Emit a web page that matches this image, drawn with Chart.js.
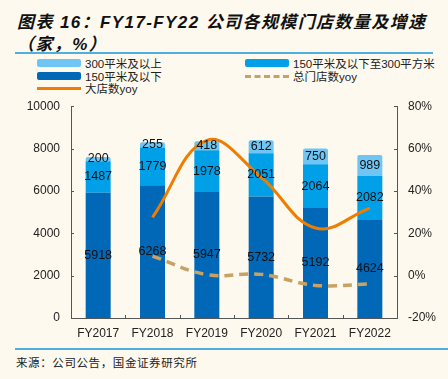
<!DOCTYPE html>
<html><head><meta charset="utf-8">
<script src="https://cdn.jsdelivr.net/npm/chart.js@4/dist/chart.umd.min.js"></script>
<style>
html,body{margin:0;padding:0;}
body{width:448px;height:379px;background:#fdf9ee;position:relative;overflow:hidden;font-family:"Liberation Sans","Noto Sans CJK SC",sans-serif;}
.title{position:absolute;left:17px;font-weight:bold;font-style:italic;font-size:17px;color:#111;letter-spacing:1.4px;white-space:nowrap;font-family:"Liberation Sans","Noto Sans CJK SC",sans-serif;}
.hr{position:absolute;height:1.5px;background:#4fb0e0;}
.leg{position:absolute;font-size:11.5px;color:#222;white-space:nowrap;display:flex;align-items:center;font-family:"Liberation Sans","Noto Sans CJK SC",sans-serif;}
.sw{width:44px;height:8px;border-radius:2px;margin-right:4px;}
.foot{position:absolute;left:16px;top:354px;font-size:11.5px;color:#222;letter-spacing:0.6px;font-family:"Noto Sans CJK SC",sans-serif;}
canvas{position:absolute;left:0;top:88px;}
</style></head>
<body>
<div class="title" style="top:8px">图表 16：FY17-FY22 公司各规模门店数量及增速</div>
<div class="title" style="top:30px">（家，%）</div>
<div class="hr" style="left:15px;width:418px;top:52px"></div>
<div class="leg" style="left:37px;top:55px"><div class="sw" style="background:#6fc6f4"></div>300平米及以上</div>
<div class="leg" style="left:245px;top:55px"><div class="sw" style="background:#00a0e9"></div>150平米及以下至300平方米</div>
<div class="leg" style="left:37px;top:68px"><div class="sw" style="background:#0068b7"></div>150平米及以下</div>
<div class="leg" style="left:245px;top:68px"><div class="sw" style="height:0;border-top:3px dashed #c9a263;border-radius:0;background:none"></div>总门店数yoy</div>
<div class="leg" style="left:37px;top:80px"><div class="sw" style="height:3px;background:#f07d00;border-radius:0"></div>大店数yoy</div>
<canvas id="c" width="448" height="255"></canvas>
<div class="hr" style="left:15px;width:433px;top:348px"></div>
<div class="foot">来源：公司公告，国金证券研究所</div>
<script>
const categories = ['FY2017','FY2018','FY2019','FY2020','FY2021','FY2022'];
const below150 = [5918,6268,5947,5732,5192,4624];
const mid150to300 = [1487,1779,1978,2051,2064,2082];
const above300 = [200,255,418,612,750,989];
const bigStoreYoy = [null,27.5,63.9,46.4,22.5,31.9];
const totalYoy = [null,9.2,0.5,0.6,-4.6,-3.9];
const leftTicks = [0,2000,4000,6000,8000,10000];
const rightTicks = [-20,0,20,40,60,80];

Chart.defaults.font.family = '"Liberation Sans", Arial, sans-serif';
Chart.defaults.font.size = 12;
Chart.defaults.color = '#222';

const barLabels = {
  id:'barLabels',
  afterDatasetsDraw(chart){
    const ctx = chart.ctx;
    ctx.save();
    ctx.font = '12.5px "Liberation Sans", Arial, sans-serif';
    ctx.fillStyle = '#111';
    ctx.textAlign = 'center';
    ctx.textBaseline = 'middle';
    chart.data.datasets.forEach((ds,i)=>{
      if(ds.type!=='bar') return;
      const meta = chart.getDatasetMeta(i);
      meta.data.forEach((el,j)=>{
        const y = (el.y + el.base)/2;
        ctx.fillText(String(ds.data[j]), el.x, y);
      });
    });
    ctx.restore();
  }
};
const tickMarks = {
  id:'tickMarks',
  afterDraw(chart){
    const ctx = chart.ctx, a = chart.chartArea;
    const y = chart.scales.y, y1 = chart.scales.y1, x = chart.scales.x;
    ctx.save();
    ctx.strokeStyle = '#555'; ctx.lineWidth = 1;
    ctx.beginPath();
    leftTicks.forEach(v=>{const p=Math.round(y.getPixelForValue(v))+0.5; ctx.moveTo(a.left,p); ctx.lineTo(a.left+3,p);});
    rightTicks.forEach(v=>{const p=Math.round(y1.getPixelForValue(v))+0.5; ctx.moveTo(a.right-3,p); ctx.lineTo(a.right,p);});
    for(let i=1;i<categories.length;i++){
      const p = Math.round((x.getPixelForValue(i-1)+x.getPixelForValue(i))/2)+0.5;
      ctx.moveTo(p,a.bottom); ctx.lineTo(p,a.bottom-3);
    }
    ctx.stroke();
    ctx.restore();
  }
};

new Chart(document.getElementById('c'),{
  data:{
    labels:categories,
    datasets:[
      {type:'line',label:'大店数yoy',data:bigStoreYoy,yAxisID:'y1',borderColor:'#f07d00',borderWidth:3,pointRadius:0,tension:0.4,order:0,spanGaps:false},
      {type:'line',label:'总门店数yoy',data:totalYoy,yAxisID:'y1',borderColor:'#c9a263',borderWidth:3.5,borderDash:[9,6],pointRadius:0,tension:0.4,order:0},
      {type:'bar',label:'150平米及以下',data:below150,backgroundColor:'#0068b7',yAxisID:'y',stack:'s',order:1,barPercentage:0.46,categoryPercentage:1},
      {type:'bar',label:'150平米及以下至300平方米',data:mid150to300,backgroundColor:'#00a0e9',yAxisID:'y',stack:'s',order:1,barPercentage:0.46,categoryPercentage:1},
      {type:'bar',label:'300平米及以上',data:above300,backgroundColor:'#6fc6f4',yAxisID:'y',stack:'s',order:1,barPercentage:0.46,categoryPercentage:1,borderRadius:{topLeft:2,topRight:2}}
    ]
  },
  options:{
    responsive:false,animation:false,devicePixelRatio:1,
    layout:{padding:{top:9,left:0,right:0,bottom:0}},
    plugins:{legend:{display:false},tooltip:{enabled:false}},
    scales:{
      x:{stacked:true,grid:{display:false,drawTicks:false},border:{display:true,color:'#555',width:1},
         ticks:{padding:8,color:'#222',font:{size:12}},
         afterFit(s){s.height=25;}},
      y:{position:'left',stacked:true,min:0,max:10000,
         grid:{display:false,drawTicks:false},border:{display:true,color:'#555',width:1},
         ticks:{stepSize:2000,padding:11,color:'#222',font:{size:12},callback:v=>String(v)},
         afterFit(s){s.width=71;}},
      y1:{position:'right',min:-20,max:80,
         grid:{display:false,drawTicks:false},border:{display:true,color:'#555',width:1},
         ticks:{stepSize:20,padding:11,color:'#222',font:{size:12},callback:v=>v+'%'},
         afterFit(s){s.width=51;}}
    }
  },
  plugins:[barLabels,tickMarks]
});
</script>
</body></html>
